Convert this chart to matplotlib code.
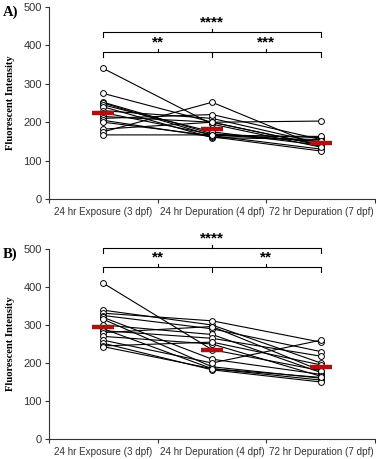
import matplotlib
matplotlib.use("Agg")
import matplotlib.pyplot as plt
import numpy as np

categories = ["24 hr Exposure (3 dpf)", "24 hr Depuration (4 dpf)", "72 hr Depuration (7 dpf)"]
yticks = [0, 100, 200, 300, 400, 500]

# Panel A: individual fish (exposure, 4 dpf, 7 dpf)
a_exp = [340, 275, 252, 250, 245, 240, 230, 225, 215, 210, 205, 200, 182, 175, 167]
a_d4  = [195, 200, 170, 165, 175, 160, 210, 168, 200, 220, 162, 165, 200, 252, 167]
a_d7  = [135, 140, 150, 130, 140, 155, 145, 160, 140, 155, 125, 163, 203, 135, 150]
a_mean = [223, 183, 147]

# Panel B
b_exp = [410, 339, 331, 325, 320, 315, 300, 290, 285, 280, 270, 260, 252, 245, 243]
b_d4  = [235, 300, 311, 290, 210, 190, 275, 185, 265, 296, 250, 200, 182, 255, 185]
b_d7  = [180, 200, 255, 230, 170, 160, 175, 155, 218, 180, 165, 260, 150, 195, 162]
b_mean = [295, 235, 190]

# significance brackets: (y of bracket, label)
a_top = (435, "****")
a_low = (383, ["**", "***"])
b_top = (503, "****")
b_low = (453, ["**", "**"])

W, H = 376, 459
fig = plt.figure(figsize=(W / 100, H / 100), dpi=100)

SANS = ["Liberation Sans", "DejaVu Sans"]
SERIF = ["Liberation Serif", "DejaVu Serif"]
GREY = "#333333"
RED = "#b00f0f"

def panel(rect, exp, d4, d7, mean, top, low, letter):
    ax = fig.add_axes(rect)
    xs = [0.5, 1.5, 2.5]
    for row in zip(exp, d4, d7):
        ax.plot(xs, row, color="black", lw=0.8, marker="o", ms=4.2,
                mfc="white", mec="black", mew=0.7, zorder=3, clip_on=False)
    for x, m in zip(xs, mean):
        ax.plot([x - 0.1, x + 0.1], [m, m], color=RED, lw=3.2,
                solid_capstyle="butt", zorder=5)
    ax.set_xlim(0, 3)
    ax.set_ylim(0, 500)
    ax.set_yticks(yticks)
    ax.set_yticklabels([str(t) for t in yticks], family=SANS, fontsize=8, color=GREY)
    ax.set_xticks([0, 1, 2, 3])
    ax.set_xticklabels([])
    ax.set_xticks(xs, minor=True)
    ax.set_xticklabels(categories, minor=True, family=SANS, fontsize=7.1, color=GREY)
    ax.tick_params(axis="x", which="minor", length=0, pad=6)
    ax.tick_params(axis="x", which="major", length=3, color=GREY, width=0.8)
    ax.tick_params(axis="y", length=3, color=GREY, width=0.8, pad=2)
    for s in ["top", "right"]:
        ax.spines[s].set_visible(False)
    for s in ["left", "bottom"]:
        ax.spines[s].set_color(GREY)
        ax.spines[s].set_linewidth(0.8)
    ax.set_ylabel("Fluorescent Intensity", family=SERIF, fontweight="bold",
                  fontsize=7.6, labelpad=6)
    # brackets
    dn, up = 13, 8
    ty, tl = top
    ax.plot([0.5, 0.5, 2.5, 2.5], [ty - dn, ty, ty, ty - dn], color="black", lw=0.8, clip_on=False)
    ax.plot([1.5, 1.5], [ty, ty + up], color="black", lw=0.8, clip_on=False)
    ax.text(1.5, ty + up - 2, tl, ha="center", va="bottom", family=SANS,
            fontweight="bold", fontsize=11, clip_on=False)
    ly, ll = low
    ax.plot([0.5, 0.5, 2.5, 2.5], [ly - dn, ly, ly, ly - dn], color="black", lw=0.8, clip_on=False)
    ax.plot([1.5, 1.5], [ly, ly - dn], color="black", lw=0.8, clip_on=False)
    for xm, lab in zip([1.0, 2.0], ll):
        ax.plot([xm, xm], [ly, ly + up], color="black", lw=0.8, clip_on=False)
        ax.text(xm, ly + up - 2, lab, ha="center", va="bottom", family=SANS,
                fontweight="bold", fontsize=11, clip_on=False)
    fig.text(0.008, rect[1] + rect[3] - 0.012, letter, family=SERIF,
             fontweight="bold", fontsize=10.5, ha="left", va="center")
    return ax

panel([0.130, 0.5664, 0.868, 0.4183], a_exp, a_d4, a_d7, a_mean, a_top, a_low, "A)")
panel([0.130, 0.0436, 0.868, 0.4139], b_exp, b_d4, b_d7, b_mean, b_top, b_low, "B)")

fig.savefig("out.png", dpi=100)
